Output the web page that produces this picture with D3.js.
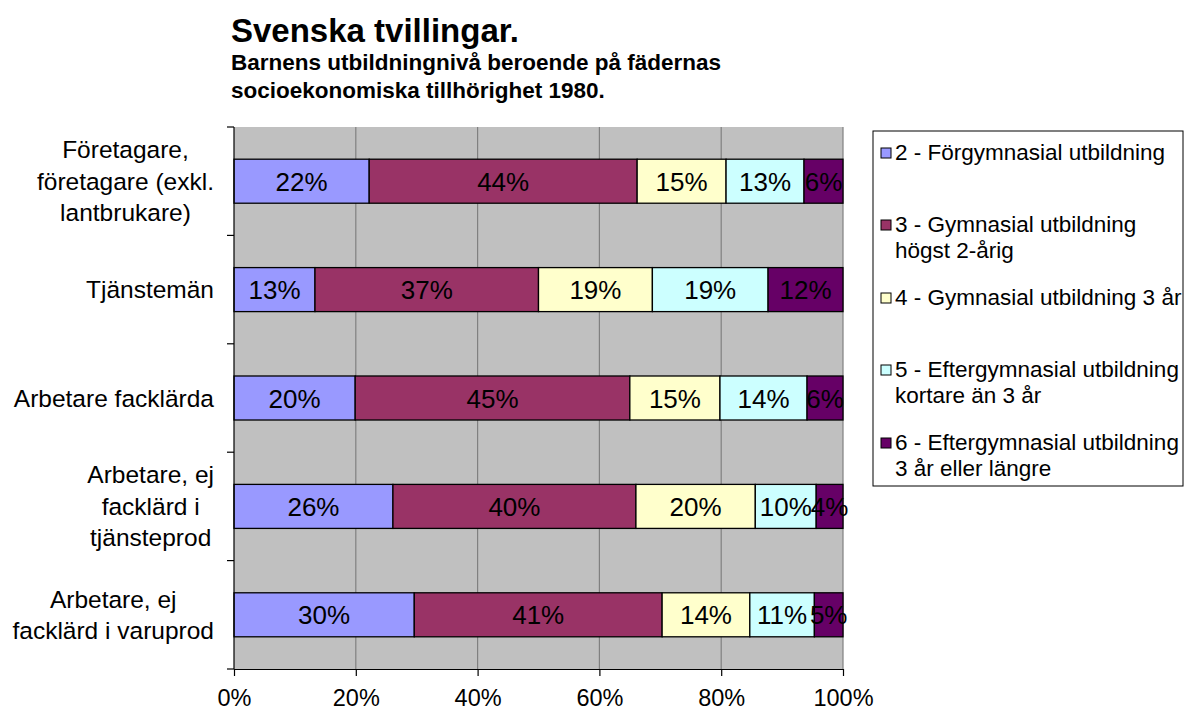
<!DOCTYPE html>
<html lang="sv">
<head>
    <meta charset="UTF-8">
    <title>Svenska tvillingar</title>
    <script src="https://d3js.org/d3.v7.min.js"></script>
    <style>
        body {
            margin: 0;
            padding: 0;
            background: #ffffff;
            font-family: 'Liberation Sans', Arial, sans-serif;
        }
        svg text { font-family: 'Liberation Sans', Arial, sans-serif; }
    </style>
</head>
<body>
    <script>
        // Kategorier (fädernas socioekonomiska grupp), en rad per stapel
        const categories = [
            ["Företagare,", "företagare (exkl.", "lantbrukare)"],
            ["Tjänstemän"],
            ["Arbetare facklärda"],
            ["Arbetare, ej", "facklärd i", "tjänsteprod"],
            ["Arbetare, ej", "facklärd i varuprod"]
        ];

        // Serier (barnens utbildningsnivå)
        const seriesNames = [
            ["2 - Förgymnasial utbildning"],
            ["3 - Gymnasial utbildning", "högst 2-årig"],
            ["4 - Gymnasial utbildning 3 år"],
            ["5 - Eftergymnasial utbildning", "kortare än 3 år"],
            ["6 - Eftergymnasial utbildning", "3 år eller längre"]
        ];
        const seriesColors = ["#9999FF", "#993366", "#FFFFCC", "#CCFFFF", "#660066"];

        // Andelar i procent, en lista per serie, i kategoriordning
        const s2 = [22.2, 13.3, 19.9, 26.1, 29.6];
        const s3 = [44.0, 36.7, 45.1, 39.9, 40.7];
        const s4 = [14.6, 18.7, 14.8, 19.6, 14.4];
        const s5 = [12.8, 19.0, 14.3, 10.0, 10.6];
        const s6 = [6.4, 12.3, 5.9, 4.4, 4.7];
        const seriesValues = [s2, s3, s4, s5, s6];

        const xTicks = [0, 20, 40, 60, 80, 100];

        const W = 1186, H = 713;
        const plot = { left: 234, right: 843, top: 127, bottom: 669 };

        const svg = d3.select("body").append("svg")
            .attr("width", W)
            .attr("height", H);

        // Titel
        svg.append("text")
            .attr("x", 231).attr("y", 42)
            .attr("font-size", 33).attr("font-weight", "bold")
            .text("Svenska tvillingar.");
        svg.append("text")
            .attr("x", 231).attr("y", 70)
            .attr("font-size", 22.5).attr("font-weight", "bold")
            .text("Barnens utbildningnivå beroende på fädernas");
        svg.append("text")
            .attr("x", 231).attr("y", 98)
            .attr("font-size", 22.5).attr("font-weight", "bold")
            .text("socioekonomiska tillhörighet 1980.");

        // Skalor
        const x = d3.scaleLinear().domain([0, 100]).range([plot.left, plot.right]);
        const y = d3.scaleBand()
            .domain(d3.range(categories.length))
            .range([plot.top, plot.bottom])
            .paddingInner(0.594)
            .paddingOuter(0.297);

        // Bakgrund
        svg.append("rect")
            .attr("x", plot.left).attr("y", plot.top)
            .attr("width", plot.right - plot.left)
            .attr("height", plot.bottom - plot.top)
            .attr("fill", "#C0C0C0");

        // Stödlinjer
        svg.append("g")
            .selectAll("line")
            .data(xTicks.slice(1))
            .enter()
            .append("line")
            .attr("x1", d => x(d)).attr("x2", d => x(d))
            .attr("y1", plot.top).attr("y2", plot.bottom)
            .attr("stroke", "#808080")
            .attr("stroke-width", 1.2);

        // Staplar
        const rows = categories.map((c, i) => {
            let acc = 0;
            return seriesValues.map((vals, s) => {
                const seg = { cat: i, s: s, x0: acc, x1: acc + vals[i], v: vals[i] };
                acc += vals[i];
                return seg;
            });
        }).flat();

        svg.append("g")
            .selectAll("rect")
            .data(rows)
            .enter()
            .append("rect")
            .attr("x", d => x(d.x0))
            .attr("y", d => y(d.cat))
            .attr("width", d => x(d.x1) - x(d.x0))
            .attr("height", y.bandwidth())
            .attr("fill", d => seriesColors[d.s])
            .attr("stroke", "#000")
            .attr("stroke-width", 1.3);

        // Dataetiketter
        svg.append("g")
            .selectAll("text")
            .data(rows)
            .enter()
            .append("text")
            .attr("x", d => x((d.x0 + d.x1) / 2))
            .attr("y", d => y(d.cat) + y.bandwidth() / 2 + 9.5)
            .attr("text-anchor", "middle")
            .attr("font-size", 26)
            .attr("fill", "#000")
            .text(d => Math.round(d.v) + "%");

        // Y-axel
        svg.append("line")
            .attr("x1", plot.left).attr("x2", plot.left)
            .attr("y1", plot.top).attr("y2", plot.bottom)
            .attr("stroke", "#000").attr("stroke-width", 1.2);
        const step = y.step();
        svg.append("g")
            .selectAll("line")
            .data(d3.range(categories.length + 1))
            .enter()
            .append("line")
            .attr("x1", plot.left - 7).attr("x2", plot.left)
            .attr("y1", d => plot.top + d * step)
            .attr("y2", d => plot.top + d * step)
            .attr("stroke", "#000").attr("stroke-width", 1.2);

        // Kategorietiketter, centrerade block högerjusterade mot axeln
        const catG = svg.append("g");
        categories.forEach((lines, i) => {
            const g = catG.append("g");
            const lh = 31.5;
            const cy = y(i) + y.bandwidth() / 2;
            const t = g.selectAll("text")
                .data(lines)
                .enter()
                .append("text")
                .attr("font-size", 24.5)
                .attr("text-anchor", "middle")
                .attr("y", (d, k) => cy + (k - (lines.length - 1) / 2) * lh + 8.5)
                .text(d => d);
            let maxW = 0;
            t.each(function () { maxW = Math.max(maxW, this.getComputedTextLength()); });
            t.attr("x", 214 - maxW / 2);
        });

        // X-axel
        const xAxis = d3.axisBottom(x)
            .tickValues(xTicks)
            .tickFormat(d => d + "%")
            .tickSizeInner(7)
            .tickSizeOuter(0)
            .tickPadding(13);
        const xg = svg.append("g")
            .attr("transform", `translate(0,${plot.bottom})`)
            .call(xAxis);
        xg.select(".domain").attr("stroke", "#000").attr("stroke-width", 1.2);
        xg.selectAll(".tick line").attr("stroke", "#000").attr("stroke-width", 1.2);
        xg.selectAll(".tick text")
            .attr("font-size", 23.5)
            .attr("font-family", "'Liberation Sans', Arial, sans-serif")
            .attr("fill", "#000");

        // Förklaring
        const legend = { x: 873, y: 131, w: 310, h: 355 };
        const legendBaselines = [160, 232, 305, 377, 450];
        svg.append("rect")
            .attr("x", legend.x).attr("y", legend.y)
            .attr("width", legend.w).attr("height", legend.h)
            .attr("fill", "#fff")
            .attr("stroke", "#000").attr("stroke-width", 1);

        const li = svg.append("g")
            .selectAll("g")
            .data(seriesNames)
            .enter()
            .append("g");
        li.append("rect")
            .attr("x", 881)
            .attr("y", (d, i) => legendBaselines[i] - 12)
            .attr("width", 10).attr("height", 10)
            .attr("fill", (d, i) => seriesColors[i])
            .attr("stroke", "#000").attr("stroke-width", 1);
        li.each(function (lines, i) {
            d3.select(this).selectAll("text")
                .data(lines)
                .enter()
                .append("text")
                .attr("x", 895)
                .attr("y", (d, k) => legendBaselines[i] + k * 26)
                .attr("font-size", 22.5)
                .text(d => d);
        });
    </script>
</body>
</html>
